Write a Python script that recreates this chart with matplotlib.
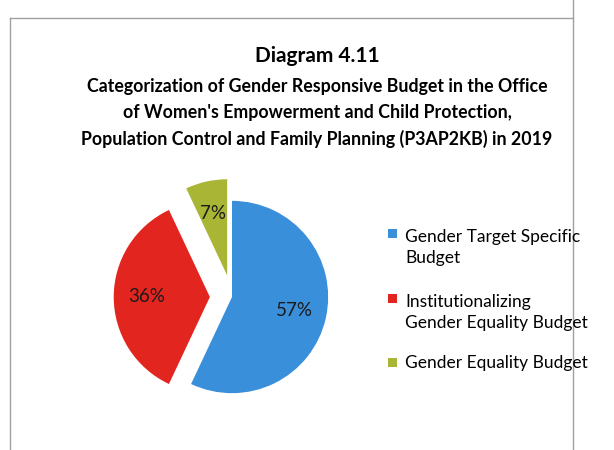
import matplotlib.pyplot as plt
from matplotlib.patches import Rectangle
from matplotlib.lines import Line2D

plt.rcParams['font.family'] = ['Lato', 'DejaVu Sans']

categories = ["Gender Target Specific\nBudget",
              "Institutionalizing\nGender Equality Budget",
              "Gender Equality Budget"]
shares = [57, 36, 7]
colors = ["#3a8fdb", "#e2261f", "#a8b535"]
explode = [0, 0.23, 0.23]

title = "Diagram 4.11"
subtitle = ("Categorization of Gender Responsive Budget in the Office\n"
            "of Women's Empowerment and Child Protection,\n"
            "Population Control and Family Planning (P3AP2KB) in 2019")

fig = plt.figure(figsize=(6.14, 4.5), dpi=100)

# frame of the chart box (scan edges)
W, H = 614, 450
frame_kw = dict(color="#a0a0a0", lw=1.0, transform=fig.transFigure)
fig.add_artist(Line2D([10 / W, 10 / W], [0, 1 - 18 / H], **frame_kw))
fig.add_artist(Line2D([10 / W, 573 / W], [1 - 18 / H, 1 - 18 / H], **frame_kw))
fig.add_artist(Line2D([573 / W, 573 / W], [0, 1], **frame_kw))

fig.text(317 / W, 1 - 56 / H, title, ha="center", va="center",
         fontsize=15, fontweight="bold")
fig.text(317 / W, 1 - 113 / H, subtitle, ha="center", va="center",
         fontsize=12.8, fontweight="bold", linespacing=1.6)

# pie centred near (232, 297) px, radius ~96 px
side = 250
ax = fig.add_axes([(232 - side / 2) / W, (H - 297 - side / 2) / H, side / W, side / H])
wedges, texts, autotexts = ax.pie(shares, colors=colors, explode=explode,
                                  startangle=90, counterclock=False,
                                  autopct="%d%%", pctdistance=0.66,
                                  textprops=dict(fontsize=13.5, color="#1a1a1a"))
ax.set_xlim(-1.3, 1.3)
ax.set_ylim(-1.3, 1.3)
ax.set_aspect("equal")
ax.axis("off")

# legend: square sits on the first line of each (wrapped) label
row_y = [233, 298, 362]
pitch = 24
for label, c, y in zip(categories, colors, row_y):
    fig.add_artist(Rectangle((388 / W, 1 - (y + 4.5) / H), 9 / W, 9 / H,
                             facecolor=c, edgecolor="none", transform=fig.transFigure))
    extra = pitch * label.count("\n")  # baseline is the last line's
    fig.text(405 / W, 1 - (y + 6 + extra) / H, label, ha="left", va="baseline",
             fontsize=12.5, linespacing=1.38)

fig.savefig("out.png", dpi=100)
